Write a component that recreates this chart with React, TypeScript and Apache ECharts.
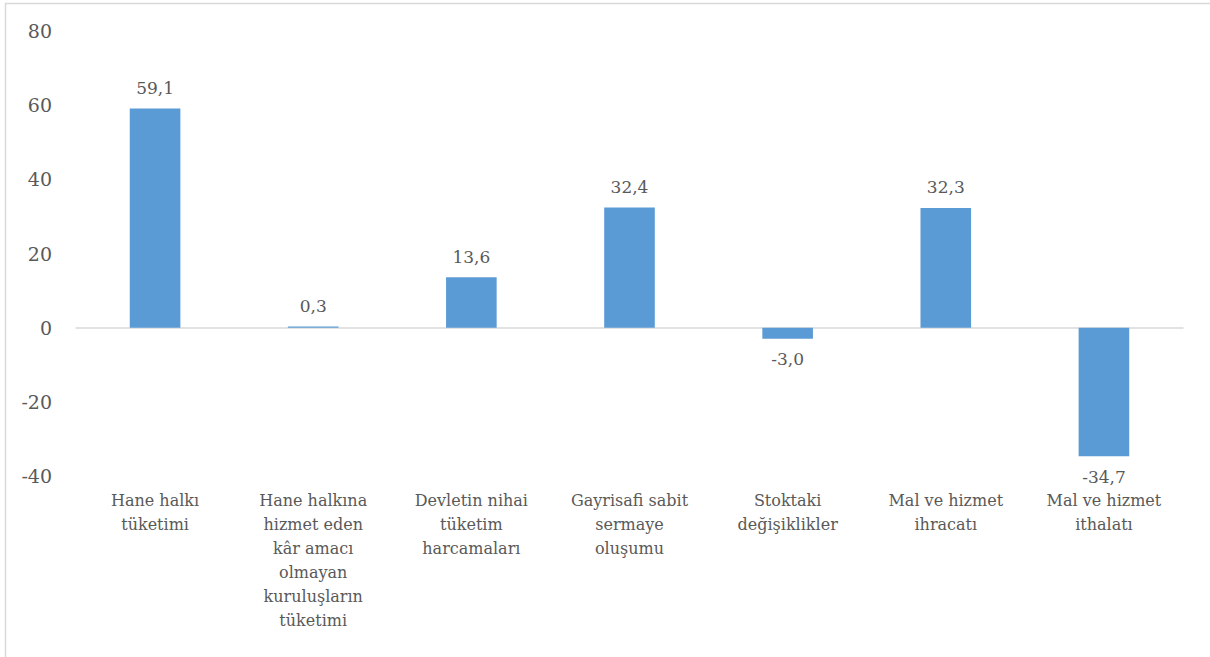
import React, { useEffect, useRef } from "react";
import * as echarts from "echarts";

const categories = [
  "Hane halkı\ntüketimi",
  "Hane halkına\nhizmet eden\nkâr amacı\nolmayan\nkuruluşların\ntüketimi",
  "Devletin nihai\ntüketim\nharcamaları",
  "Gayrisafi sabit\nsermaye\noluşumu",
  "Stoktaki\ndeğişiklikler",
  "Mal ve hizmet\nihracatı",
  "Mal ve hizmet\nithalatı",
];
const values = [59.1, 0.3, 13.6, 32.4, -3.0, 32.3, -34.7];
const yTicks = { min: -40, max: 80, interval: 20 };

const FONT = "DejaVu Serif";
const TEXT = "#595959";

export default function App() {
  const ref = useRef<HTMLDivElement>(null);
  useEffect(() => {
    if (!ref.current) return;
    const chart = echarts.init(ref.current, null, { renderer: "svg" });
    chart.setOption({
      animation: false,
      backgroundColor: "#ffffff",
      textStyle: { fontFamily: FONT },
      graphic: [
        {
          type: "rect",
          shape: { x: 5.5, y: 3.5, width: 1220, height: 680 },
          style: { fill: "none", stroke: "#d9d9d9", lineWidth: 1.5 },
          silent: true,
        },
      ],
      grid: { left: 76, right: 27, top: 31, bottom: 181, containLabel: false },
      xAxis: {
        type: "category",
        data: categories,
        axisLine: { show: true, onZero: true, lineStyle: { color: "#d9d9d9", width: 1.5 } },
        axisTick: { show: false },
        axisLabel: {
          interval: 0,
          color: TEXT,
          fontFamily: FONT,
          fontSize: 16,
          lineHeight: 24,
          margin: 12,
          align: "center",
          verticalAlign: "top",
        },
        position: "bottom",
      },
      yAxis: {
        type: "value",
        min: yTicks.min,
        max: yTicks.max,
        interval: yTicks.interval,
        axisLine: { show: false },
        axisTick: { show: false },
        splitLine: { show: false },
        axisLabel: {
          color: TEXT,
          fontFamily: FONT,
          fontSize: 19,
          margin: 24,
        },
      },
      series: [
        {
          type: "bar",
          barWidth: "32%",
          itemStyle: { color: "#5b9bd5" },
          data: values.map((v) => ({
            value: v,
            label: { position: v < 0 ? "bottom" : "top" },
          })),
          label: {
            show: true,
            color: TEXT,
            fontFamily: FONT,
            fontSize: 17,
            distance: 12,
            formatter: (p: any) => Number(p.value).toFixed(1).replace(".", ","),
          },
        },
      ],
    });
    return () => chart.dispose();
  }, []);
  return (
    <div
      ref={ref}
      style={{ position: "absolute", left: 0, top: 0, width: 1210, height: 657 }}
    />
  );
}
